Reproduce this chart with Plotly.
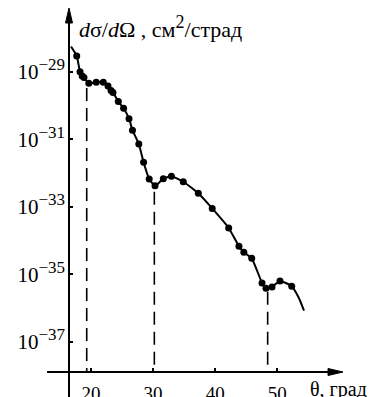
import plotly.graph_objects as go

# measured points: scattering angle (deg) and log10 of cross-section
theta_pts = [17.70, 18.23, 18.58, 18.87, 19.65, 20.84, 21.98, 22.74, 23.22, 23.54,
             24.40, 25.25, 26.12, 26.68, 27.70, 28.47, 29.37, 30.31, 31.64, 32.95,
             34.86, 37.28, 39.52, 42.17, 43.83, 44.61, 45.88, 47.54, 48.18, 49.15,
             50.43, 52.32]
logsig_pts = [-28.53, -29.00, -29.12, -29.17, -29.34, -29.31, -29.31, -29.42, -29.55, -29.61,
              -29.88, -30.08, -30.39, -30.73, -31.14, -31.68, -32.18, -32.38, -32.17, -32.10,
              -32.26, -32.60, -33.05, -33.63, -34.17, -34.35, -34.53, -35.26, -35.42, -35.38,
              -35.20, -35.36]

# curve continues beyond the first/last measured points
curve_start_theta = [16.78]
curve_start_log = [-28.25]
curve_end_theta = [53.4, 54.3]
curve_end_log = [-35.68, -36.08]

# dashed markers of the diffraction minima
min_theta = [19.31, 30.2, 48.45]
min_top_log = [-29.48, -32.56, -35.52]
axis_floor_log = -37.9

x_tickvals = [20, 30, 40, 50]
x_ticktext = ["20", "30", "40", "50"]
y_exps = [-29, -31, -33, -35, -37]
y_ticktext = ["10<sup><span style='font-size:17px'>\u2212%d</span></sup>" % (-e) for e in y_exps]

y_title = ("<i>d</i>\u03c3/<i>d</i>\u03a9 , \u0441\u043c<sup><span style='font-size:18px'>2</span></sup>"
           "/\u0441\u0442\u0440\u0430\u0434")
x_title = "\u03b8, \u0433\u0440\u0430\u0434"

FONT = "Liberation Serif, DejaVu Serif, Times New Roman, serif"

curve_x = curve_start_theta + theta_pts + curve_end_theta
curve_y = [10 ** v for v in curve_start_log + logsig_pts + curve_end_log]

dx, dy = [], []
for t, top in zip(min_theta, min_top_log):
    dx += [t, t, None]
    dy += [10 ** top, 10 ** axis_floor_log, None]

fig = go.Figure()
fig.add_trace(go.Scatter(x=dx, y=dy, mode="lines",
                         line=dict(color="black", width=1.6, dash="13px,7px"),
                         hoverinfo="skip", showlegend=False))
fig.add_trace(go.Scatter(x=curve_x, y=curve_y, mode="lines",
                         line=dict(color="black", width=2, shape="spline", smoothing=0.5),
                         showlegend=False, cliponaxis=False))
fig.add_trace(go.Scatter(x=theta_pts, y=[10 ** v for v in logsig_pts], mode="markers",
                         marker=dict(color="black", size=7),
                         showlegend=False, cliponaxis=False))

fig.update_xaxes(range=[16.457, 60.58], showgrid=False, zeroline=False, showline=False,
                 automargin=False,
                 tickvals=x_tickvals, ticktext=x_ticktext, ticks="inside", ticklen=4,
                 tickwidth=1.5, tickcolor="black", ticklabelstandoff=8,
                 tickfont=dict(family=FONT, size=19, color="black"))
fig.update_yaxes(type="log", range=[-37.902, -27.107], showgrid=False, zeroline=False,
                 showline=False, automargin=False,
                 tickvals=[10 ** e for e in y_exps], ticktext=y_ticktext,
                 ticks="inside", ticklen=4, tickwidth=1.5, tickcolor="black",
                 ticklabelstandoff=3,
                 tickfont=dict(family=FONT, size=21, color="black"))

shapes = [
    # y axis line (extends below x axis)
    dict(type="line", xref="paper", yref="paper", x0=0, x1=0, y0=-0.08, y1=0.98,
         line=dict(color="black", width=2)),
    # x axis line (extends left of y axis)
    dict(type="line", xref="paper", yref="paper", x0=-0.08, x1=0.98, y0=0, y1=0,
         line=dict(color="black", width=2)),
    # arrowheads
    dict(type="path", xref="paper", yref="paper", xsizemode="pixel", ysizemode="pixel",
         xanchor=0, yanchor=1, path="M-3.5,-15 L0,0 L3.5,-15 Z",
         fillcolor="black", line=dict(color="black", width=1)),
    dict(type="path", xref="paper", yref="paper", xsizemode="pixel", ysizemode="pixel",
         xanchor=1, yanchor=0, path="M-15,-3.5 L0,0 L-15,3.5 Z",
         fillcolor="black", line=dict(color="black", width=1)),
]

annotations = [
    dict(text=y_title, xref="paper", yref="paper", x=0.03, y=0.948,
         xanchor="left", yanchor="middle", showarrow=False,
         font=dict(family=FONT, size=22, color="black")),
    dict(text=x_title, xref="paper", yref="paper", x=0.873, y=-0.049,
         xanchor="left", yanchor="middle", showarrow=False,
         font=dict(family=FONT, size=20, color="black")),
]

fig.update_layout(width=379, height=397, margin=dict(l=69, r=36, t=8, b=25),
                  paper_bgcolor="white", plot_bgcolor="white",
                  shapes=shapes, annotations=annotations)

fig.write_html("out.html", config={"displayModeBar": False},
               post_script="document.body.style.margin='0px';document.body.style.overflow='hidden';")
